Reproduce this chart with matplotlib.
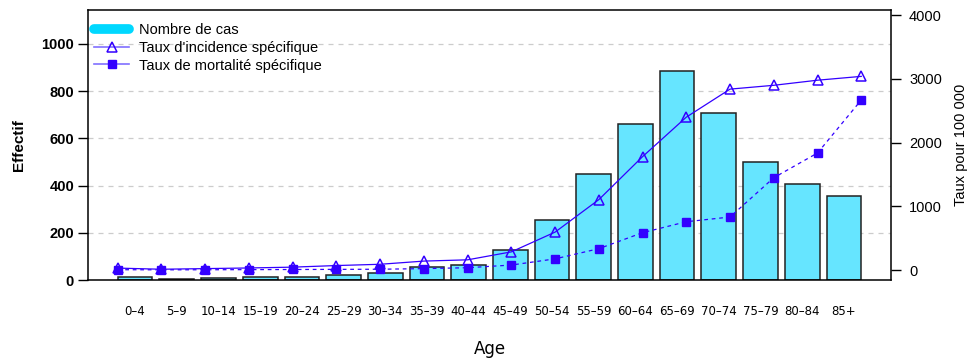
import numpy as np
import matplotlib.pyplot as plt
from matplotlib.lines import Line2D

plt.rcParams['font.family'] = ['Liberation Sans', 'DejaVu Sans']

ages = ['0–4', '5–9', '10–14', '15–19', '20–24', '25–29', '30–34', '35–39', '40–44',
        '45–49', '50–54', '55–59', '60–64', '65–69', '70–74', '75–79', '80–84', '85+']
cas = [11, 3, 8, 11, 14, 22, 30, 56, 64, 127, 253, 449, 660, 883, 706, 500, 407, 356]
incidence = [30, 12, 22, 32, 45, 70, 90, 140, 160, 285, 595, 1105, 1780, 2400, 2840, 2900, 2980, 3040]
mortalite = [5, 3, 4, 6, 8, 10, 12, 22, 36, 78, 175, 335, 586, 758, 832, 1449, 1837, 2669]

bar_col = '#66E5FF'
line_col = '#3300FF'

fig = plt.figure(figsize=(9.67, 3.6), dpi=100)
rect = [0.091, 0.2222, 0.8304, 0.7514]
ax = fig.add_axes(rect)

x = np.arange(len(ages))
ax.bar(x, cas, width=1 / 1.2, color=bar_col, edgecolor='#222222', linewidth=1.1, zorder=2)
ax.set_xlim(-1.13, 18.13)
ax.set_ylim(0, 1145)
ax.set_yticks([0, 200, 400, 600, 800, 1000])
for v in [200, 400, 600, 800, 1000]:
    ax.axhline(v, color='#cccccc', lw=0.9, ls=(0, (4, 4)), zorder=1)
ax.set_xticks(x)
ax.set_xticklabels(ages, fontsize=8.5, family='Liberation Sans Narrow')
ax.tick_params(axis='x', length=0, pad=18)
ax.tick_params(axis='y', length=7, width=1, labelsize=10.5, pad=3)
for lab in ax.get_yticklabels():
    lab.set_fontweight('bold')
ax.set_ylabel('Effectif', fontsize=11, fontweight='bold', labelpad=11)
ax.set_xlabel('Age', fontsize=12, family='Liberation Sans Narrow', labelpad=16)
for s in ax.spines.values():
    s.set_linewidth(1.1)

# overlay for the rates (own x scale, right y axis)
ax2 = fig.add_axes(rect, frameon=False)
ax2.patch.set_alpha(0)
pos = np.arange(1, len(ages) + 1)
ax2.plot(pos, incidence, color=line_col, lw=0.9, marker='^', ms=7.5,
         mfc='none', mec=line_col, mew=1.1)
ax2.plot(pos, mortalite, color=line_col, lw=0.9, ls=(0, (3, 3)), marker='s', ms=5.5,
         mfc=line_col, mec=line_col)
ax2.set_xlim(0.32, 18.68)
ax2.set_ylim(-157, 4090)
ax2.set_xticks([])
ax2.yaxis.tick_right()
ax2.yaxis.set_label_position('right')
ax2.set_yticks([0, 1000, 2000, 3000, 4000])
ax2.tick_params(axis='y', length=7, width=1, labelsize=10.5, pad=6)
ax2.set_ylabel('Taux pour 100 000', fontsize=10.5, labelpad=9)

handles = [
    Line2D([], [], color='#00D8FF', lw=7, solid_capstyle='round'),
    Line2D([], [], color='#8070FF', lw=1.2, marker='^', ms=7.5, mfc='none', mec=line_col, mew=1.1),
    Line2D([], [], color='#8070FF', lw=1.2, marker='s', ms=5.5, mfc=line_col, mec=line_col),
]
ax2.legend(handles, ['Nombre de cas', "Taux d'incidence spécifique", 'Taux de mortalité spécifique'],
           loc='upper left', bbox_to_anchor=(0.004, 0.96), frameon=False, fontsize=10.5,
           handlelength=2.4, handletextpad=0.7, labelspacing=0.25, borderpad=0.2,
           borderaxespad=0)

fig.savefig('out.png', dpi=100)
